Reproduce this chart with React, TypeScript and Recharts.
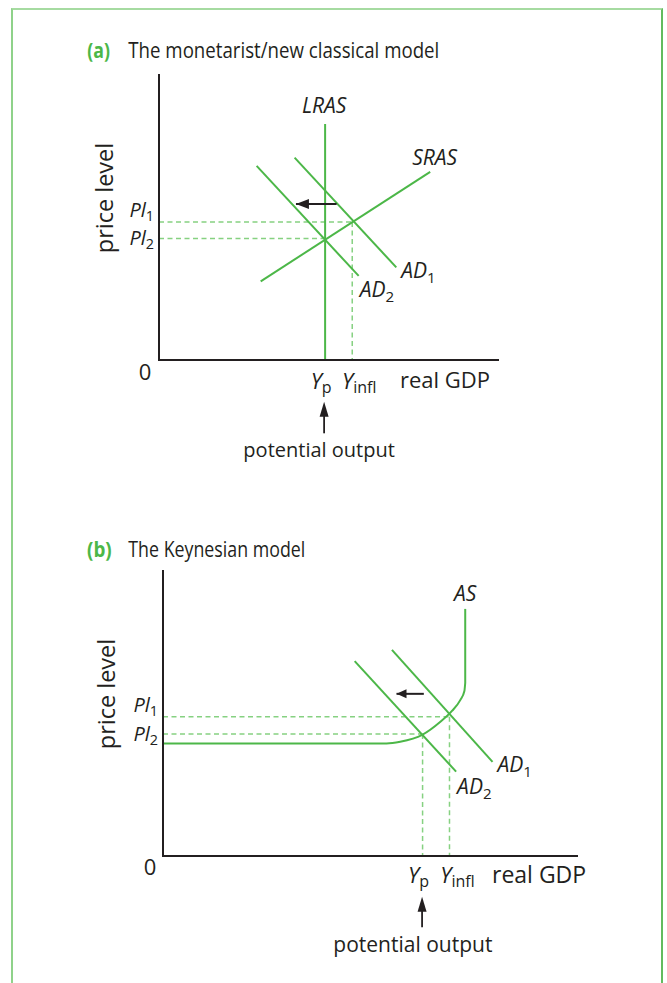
import React from 'react';
import { ComposedChart, Line, XAxis, YAxis, ReferenceLine } from 'recharts';

const FONT = '"Open Sans", sans-serif';
const GREEN = '#4cb748';
const GUIDE = '#86d181';
const INK = '#231f20';

type Pt = { x: number; y: number };

// (a) monetarist / new classical model  (both axes 0..100)
const A_YP = 49;
const A_YINFL = 57;
const A_PL1 = 48.4;
const A_PL2 = 42.6;
const A_LRAS: Pt[] = [{ x: 49, y: 0 }, { x: 49, y: 82.8 }];
const A_SRAS: Pt[] = [{ x: 30, y: 27.6 }, { x: 80, y: 66 }];
const A_AD1: Pt[] = [{ x: 40, y: 71 }, { x: 70, y: 32.5 }];
const A_AD2: Pt[] = [{ x: 28.8, y: 68.1 }, { x: 58.9, y: 29.5 }];
const A_SHIFT: Pt[] = [{ x: 52.4, y: 54.7 }, { x: 40.4, y: 54.7 }];

// (b) Keynesian model
const B_YP = 62.7;
const B_YINFL = 69.2;
const B_PL1 = 48.9;
const B_PL2 = 42.8;
const B_AS_BEND: Pt[] = [
  { x: 0, y: 39.5 }, { x: 54, y: 39.5 }, { x: 57.3, y: 40.1 }, { x: 62.6, y: 42.5 },
  { x: 67, y: 47.1 }, { x: 69.8, y: 50.9 }, { x: 71.8, y: 54.7 }, { x: 72.8, y: 57.9 }, { x: 73, y: 60.7 },
];
const B_AS_TOP: Pt[] = [{ x: 73, y: 60.7 }, { x: 73, y: 86.7 }];
const B_AD1: Pt[] = [{ x: 55.3, y: 72.3 }, { x: 79.6, y: 33 }];
const B_AD2: Pt[] = [{ x: 46.3, y: 68.4 }, { x: 70.8, y: 29.6 }];
const B_SHIFT: Pt[] = [{ x: 63, y: 56.9 }, { x: 56.4, y: 56.9 }];

type Curve = {
  key: string; data: Pt[]; type?: 'linear' | 'monotoneX';
  name?: string; sub?: string; at?: number; dx?: number; dy?: number; anchor?: 'start' | 'middle' | 'end';
};

const tagDot = (c: Curve, size: number) => (p: any) => {
  if (p.index !== c.at) return <g key={`${c.key}-${p.index}`} />;
  return (
    <text key={`${c.key}-${p.index}`} x={p.cx + (c.dx || 0)} y={p.cy + (c.dy || 0)} textAnchor={c.anchor || 'start'}
      fontFamily={FONT} fontSize={size} fontStyle="italic" fill={INK}>
      {c.name}
      {c.sub && <tspan fontSize={size * 0.72} fontStyle="normal" dy={5}>{c.sub}</tspan>}
    </text>
  );
};

const headDot = (len: number, half: number) => (p: any) =>
  p.index === 1
    ? <path key="head" d={`M${p.cx},${p.cy} L${p.cx + len},${p.cy - half} L${p.cx + len},${p.cy + half} Z`} fill={INK} />
    : <g key="tail" />;

function Panel({ cfg }: { cfg: any }) {
  const s = cfg.size;

  const xTick = (p: any) => {
    const { x, y, payload } = p;
    const v = payload.value;
    if (v === 0) {
      return <text x={x + cfg.zeroDx} y={y + cfg.zeroDy} textAnchor="middle" fontFamily={FONT} fontSize={s} fill={INK}>0</text>;
    }
    const isP = v === cfg.yp;
    const ax = x + cfg.arrowDx;
    return (
      <g>
        <text x={x + (isP ? cfg.ypDx : cfg.yinflDx)} y={y + cfg.yDy} textAnchor="middle" fontFamily={FONT} fontSize={s} fill={INK}>
          <tspan fontStyle="italic">Y</tspan>
          <tspan fontSize={s * 0.73} dy={4}>{isP ? 'p' : 'infl'}</tspan>
        </text>
        {isP && (
          <g>
            <line x1={ax} y1={y + cfg.tipDy + 10} x2={ax} y2={y + cfg.shaftDy} stroke={INK} strokeWidth={1.8} />
            <path d={`M${ax},${y + cfg.tipDy} L${ax - 4.5},${y + cfg.tipDy + 15} L${ax + 4.5},${y + cfg.tipDy + 15} Z`} fill={INK} />
            <text x={x + cfg.potDx} y={y + cfg.potDy} textAnchor="middle" fontFamily={FONT} fontSize={cfg.potSize} fill={INK}>
              potential output
            </text>
          </g>
        )}
      </g>
    );
  };

  const yTick = (p: any) => {
    const { x, y, payload } = p;
    const one = payload.value === cfg.pl1;
    return (
      <text x={x + cfg.plDx} y={y + (one ? cfg.pl1Dy : cfg.pl2Dy)} textAnchor="end" fontFamily={FONT} fontSize={cfg.plSize} fill={INK}>
        <tspan fontStyle="italic">Pl</tspan>
        <tspan fontSize={cfg.plSize * 0.72} dy={4}>{one ? '1' : '2'}</tspan>
      </text>
    );
  };

  const gdpLabel = (p: any) => {
    const vb = p.viewBox;
    return (
      <text x={vb.x + vb.width + cfg.gdpDx} y={vb.y + cfg.gdpDy} fontFamily={FONT} fontSize={cfg.gdpSize} fill={INK}>real GDP</text>
    );
  };

  const priceLabel = (p: any) => {
    const vb = p.viewBox;
    const cx = vb.x + vb.width + cfg.priceDx;
    const cy = vb.y + vb.height / 2 + cfg.priceDy;
    return (
      <text x={cx} y={cy} transform={`rotate(-90 ${cx} ${cy})`} textAnchor="middle" dominantBaseline="central"
        fontFamily={FONT} fontSize={cfg.priceSize} fill={INK}>price level</text>
    );
  };

  const axisLine = { stroke: INK, strokeWidth: 2, strokeLinecap: 'square' as const };

  return (
    <div style={{ position: 'absolute', left: cfg.left, top: cfg.top }}>
      <ComposedChart width={cfg.width} height={cfg.height} margin={{ top: 15, right: cfg.right, bottom: 0, left: 0 }}>
        <XAxis type="number" dataKey="x" domain={[0, 100]} ticks={[0, cfg.yp, cfg.yinfl]} interval={0}
          tick={xTick} tickLine={false} tickSize={0} tickMargin={0} axisLine={axisLine} height={120} label={gdpLabel} />
        <YAxis type="number" dataKey="y" domain={[0, 100]} ticks={[cfg.pl2, cfg.pl1]} interval={0}
          tick={yTick} tickLine={false} tickSize={0} tickMargin={0} axisLine={axisLine} width={cfg.axisX} label={priceLabel} />
        {cfg.guides.map((g: Pt[], i: number) => (
          <ReferenceLine key={`g${i}`} segment={g} stroke={GUIDE} strokeWidth={1.5} strokeDasharray="5 3.5" />
        ))}
        {cfg.curves.map((c: Curve) => (
          <Line key={c.key} data={c.data} dataKey="y" type={c.type || 'linear'} stroke={GREEN} strokeWidth={2}
            dot={c.name ? tagDot(c, cfg.tagSize) : false} activeDot={false} isAnimationActive={false} legendType="none" />
        ))}
        <Line data={cfg.shift} dataKey="y" stroke={INK} strokeWidth={2} dot={headDot(cfg.headLen, cfg.headHalf)}
          activeDot={false} isAnimationActive={false} legendType="none" />
      </ComposedChart>
    </div>
  );
}

const CFG_A = {
  left: 0, top: 60, width: 520, height: 420, right: 22, axisX: 159,
  yp: A_YP, yinfl: A_YINFL, pl1: A_PL1, pl2: A_PL2,
  size: 22, tagSize: 21, plSize: 20, gdpSize: 22, potSize: 20, priceSize: 23.5,
  zeroDx: -14, zeroDy: 20, ypDx: -4, yinflDx: 7, yDy: 29,
  arrowDx: -1, tipDy: 41.7, shaftDy: 73.3, potDx: -6, potDy: 96.7,
  gdpDx: -98, gdpDy: 28, priceDx: -55, priceDy: -19.5,
  plDx: -5, pl1Dy: -5, pl2Dy: 6, headLen: 13, headHalf: 5,
  guides: [
    [{ x: 0, y: A_PL1 }, { x: A_YINFL, y: A_PL1 }],
    [{ x: 0, y: A_PL2 }, { x: A_YP, y: A_PL2 }],
    [{ x: A_YINFL, y: A_PL1 }, { x: A_YINFL, y: 0 }],
  ],
  curves: [
    { key: 'lras', data: A_LRAS, name: 'LRAS', at: 1, dx: -1, dy: -11, anchor: 'middle' },
    { key: 'sras', data: A_SRAS, name: 'SRAS', at: 1, dx: -18, dy: -7 },
    { key: 'ad1', data: A_AD1, name: 'AD', sub: '1', at: 1, dx: 5, dy: 11 },
    { key: 'ad2', data: A_AD2, name: 'AD', sub: '2', at: 1, dx: 1, dy: 21 },
  ],
  shift: A_SHIFT,
};

const CFG_B = {
  left: 0, top: 556, width: 600, height: 420, right: 23, axisX: 163,
  yp: B_YP, yinfl: B_YINFL, pl1: B_PL1, pl2: B_PL2,
  size: 22, tagSize: 21, plSize: 20, gdpSize: 23, potSize: 21, priceSize: 23.5,
  zeroDx: -13, zeroDy: 19, ypDx: -4, yinflDx: 8, yDy: 27,
  arrowDx: -0.5, tipDy: 40.7, shaftDy: 71.3, potDx: -9.7, potDy: 95.7,
  gdpDx: -85, gdpDy: 27, priceDx: -57, priceDy: -19.5,
  plDx: -5, pl1Dy: -4.5, pl2Dy: 7, headLen: 10, headHalf: 4.5,
  guides: [
    [{ x: 0, y: B_PL1 }, { x: B_YINFL, y: B_PL1 }],
    [{ x: 0, y: B_PL2 }, { x: B_YP, y: B_PL2 }],
    [{ x: B_YINFL, y: B_PL1 }, { x: B_YINFL, y: 0 }],
    [{ x: B_YP, y: B_PL2 }, { x: B_YP, y: 0 }],
  ],
  curves: [
    { key: 'asb', data: B_AS_BEND, type: 'monotoneX' },
    { key: 'ast', data: B_AS_TOP, name: 'AS', at: 1, dx: 0, dy: -8, anchor: 'middle' },
    { key: 'ad1', data: B_AD1, name: 'AD', sub: '1', at: 1, dx: 5, dy: 10 },
    { key: 'ad2', data: B_AD2, name: 'AD', sub: '2', at: 1, dx: 1, dy: 22 },
  ],
  shift: B_SHIFT,
};

export default function App() {
  return (
    <div style={{ position: 'absolute', left: 0, top: 0, width: 667, height: 983, background: '#fff', overflow: 'hidden' }}>
      <div style={{
        position: 'absolute', left: 11, top: 8, width: 652, height: 990, boxSizing: 'border-box',
        borderTop: '2px solid #a6dba1', borderLeft: '2px solid #8fd28a', borderRight: '2px solid #62bb5e',
      }} />
      <svg width={667} height={983} style={{ position: 'absolute', left: 0, top: 0 }}>
        <text x={87.3} y={58.3} textLength={22.7} lengthAdjust="spacingAndGlyphs" fontFamily={FONT} fontWeight="bold" fontSize={21} fill={GREEN}>(a)</text>
        <text x={128.3} y={58.3} textLength={311} lengthAdjust="spacingAndGlyphs" fontFamily={FONT} fontSize={21} fill={INK}>The monetarist/new classical model</text>
        <text x={87} y={556.5} textLength={24.7} lengthAdjust="spacingAndGlyphs" fontFamily={FONT} fontWeight="bold" fontSize={22} fill={GREEN}>(b)</text>
        <text x={128.3} y={556.5} textLength={177} lengthAdjust="spacingAndGlyphs" fontFamily={FONT} fontSize={22} fill={INK}>The Keynesian model</text>
      </svg>
      <Panel cfg={CFG_A} />
      <Panel cfg={CFG_B} />
    </div>
  );
}
